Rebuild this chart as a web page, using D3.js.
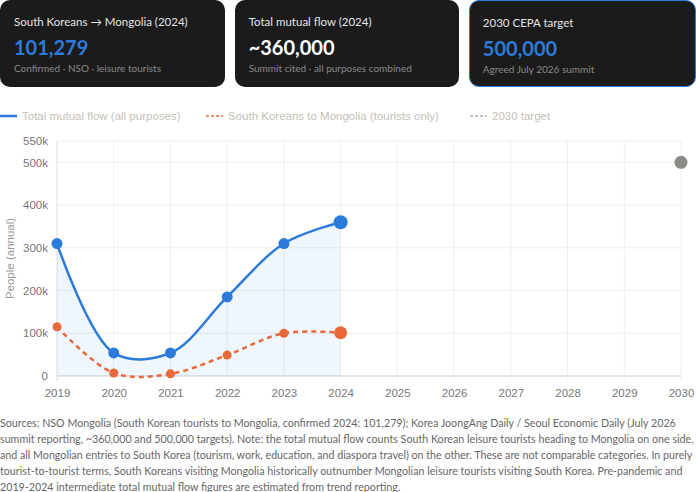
<!DOCTYPE html>
<html>
<head>
<meta charset="utf-8">
<script src="https://cdn.jsdelivr.net/npm/d3@7"></script>
<style>
  html, body { margin: 0; padding: 0; background: #fff; }
  body { width: 696px; height: 492px; position: relative; overflow: hidden; font-family: Lato, "Noto Sans", sans-serif; }
  .cards { position: absolute; left: 0; top: 0; width: 696px; height: 87px; display: flex; gap: 10px; }
  .card { flex: 1; background: #1b1b1b; border-radius: 10px; box-sizing: border-box; position: relative; }
  .card.hl { border: 1.5px solid #2b7bdc; }
  .card > div { position: absolute; left: 14px; white-space: nowrap; }
  .card.hl > div { left: 12.5px; }
  .card .t { top: 15px; font-size: 11.5px; color: #e4e4e4; }
  .card .v { top: 35px; font-size: 20px; font-weight: 700; color: #fff; }
  .card .v.blue { color: #2b7bdc; }
  .card .s { top: 62px; font-size: 10px; color: #8a8a8a; }
  .notes { position: absolute; left: 0; top: 414.5px; width: 700px; font-size: 12px; line-height: 16.2px; color: #666; }
  .notes div { white-space: nowrap; display: table; }
  svg text { font-family: "Liberation Sans", Arial, sans-serif; }
</style>
</head>
<body>
<div class="cards" id="cards"></div>
<svg id="chart" width="696" height="314" style="position:absolute;left:0;top:100px"></svg>
<div class="notes" id="notes"></div>
<script>
// data
const years = [2019, 2020, 2021, 2022, 2023, 2024];
const totalFlow = [310000, 54000, 54000, 185000, 310000, 360000];
const koreanTourists = [115000, 7000, 5000, 49000, 100000, 101279];
const targetYear = 2030;
const targetValue = 500000;
const yTicks = [0, 100000, 200000, 300000, 400000, 500000, 550000];
const xTicks = [2019, 2020, 2021, 2022, 2023, 2024, 2025, 2026, 2027, 2028, 2029, 2030];

const cards = [
  { title: "South Koreans \u2192 Mongolia (2024)", value: "101,279", sub: "Confirmed \u00b7 NSO \u00b7 leisure tourists", blue: true, hl: false },
  { title: "Total mutual flow (2024)", value: "~360,000", sub: "Summit cited \u00b7 all purposes combined", blue: false, hl: false },
  { title: "2030 CEPA target", value: "500,000", sub: "Agreed July 2026 summit", blue: true, hl: true },
];

const noteLines = [
  "Sources: NSO Mongolia (South Korean tourists to Mongolia, confirmed 2024: 101,279); Korea JoongAng Daily / Seoul Economic Daily (July 2026",
  "summit reporting, ~360,000 and 500,000 targets). Note: the total mutual flow counts South Korean leisure tourists heading to Mongolia on one side,",
  "and all Mongolian entries to South Korea (tourism, work, education, and diaspora travel) on the other. These are not comparable categories. In purely",
  "tourist-to-tourist terms, South Koreans visiting Mongolia historically outnumber Mongolian leisure tourists visiting South Korea. Pre-pandemic and",
  "2019-2024 intermediate total mutual flow figures are estimated from trend reporting.",
];

const blue = "#2b7bdc";
const orange = "#e8683a";
const grey = "#8c8a84";

// KPI cards
const card = d3.select("#cards").selectAll(".card")
  .data(cards)
  .join("div")
  .attr("class", (d) => (d.hl ? "card hl" : "card"));
card.append("div").attr("class", "t").text((d) => d.title);
card.append("div").attr("class", (d) => (d.blue ? "v blue" : "v")).text((d) => d.value);
card.append("div").attr("class", "s").text((d) => d.sub);

// footnote, shrink so the widest line fits the page
const notes = d3.select("#notes");
notes.selectAll("div").data(noteLines).join("div").text((d) => d);
const widest = d3.max(notes.selectAll("div").nodes(), (n) => n.getBoundingClientRect().width);
if (widest > 694) notes.style("font-size", (12 * 694) / widest + "px");

// chart
const svg = d3.select("#chart");
const x = d3.scaleLinear().domain([2019, 2030]).range([57, 681]);
const y = d3.scaleLinear().domain([0, 550000]).range([276, 41]);

// grid
svg.append("g")
  .selectAll("line")
  .data(yTicks)
  .join("line")
  .attr("x1", x(2019)).attr("x2", x(2030))
  .attr("y1", (d) => y(d)).attr("y2", (d) => y(d))
  .attr("stroke", (d) => (d === 0 ? "#dedede" : "#efefef"))
  .attr("stroke-width", (d) => (d === 0 ? 1.5 : 1));

svg.append("g")
  .selectAll("line")
  .data(xTicks)
  .join("line")
  .attr("x1", (d) => x(d)).attr("x2", (d) => x(d))
  .attr("y1", y(550000)).attr("y2", y(0) + 5)
  .attr("stroke", (d) => (d === 2019 ? "#dedede" : "#efefef"))
  .attr("stroke-width", 1);

// axes
const yAxis = d3.axisLeft(y)
  .tickValues(yTicks)
  .tickSize(0)
  .tickPadding(9)
  .tickFormat((d) => (d === 0 ? "0" : d / 1000 + "k"));
svg.append("g")
  .attr("transform", `translate(${x(2019)},0)`)
  .call(yAxis)
  .call((g) => g.select(".domain").remove())
  .call((g) => g.selectAll("text").attr("fill", "#777").attr("font-size", 11.5));

const xAxis = d3.axisBottom(x)
  .tickValues(xTicks)
  .tickSize(0)
  .tickPadding(13)
  .tickFormat(d3.format("d"));
svg.append("g")
  .attr("transform", `translate(0,${y(0)})`)
  .call(xAxis)
  .call((g) => g.select(".domain").remove())
  .call((g) => g.selectAll("text").attr("fill", "#777").attr("font-size", 11.5));

// y label
svg.append("text")
  .attr("transform", `translate(14,${(y(0) + y(550000)) / 2}) rotate(-90)`)
  .attr("text-anchor", "middle")
  .attr("fill", "#999")
  .attr("font-size", 11.5)
  .text("People (annual)");

const curve = d3.curveCatmullRom.alpha(0.5);
const totalPts = years.map((yr, i) => [yr, totalFlow[i]]);
const touristPts = years.map((yr, i) => [yr, koreanTourists[i]]);

// fill under total line
svg.append("path")
  .datum(totalPts)
  .attr("fill", "rgba(43,123,220,0.07)")
  .attr("d", d3.area().x((d) => x(d[0])).y0(y(0)).y1((d) => y(d[1])).curve(curve));

svg.append("path")
  .datum(totalPts)
  .attr("fill", "none")
  .attr("stroke", blue)
  .attr("stroke-width", 2.5)
  .attr("d", d3.line().x((d) => x(d[0])).y((d) => y(d[1])).curve(curve));

svg.append("path")
  .datum(touristPts)
  .attr("fill", "none")
  .attr("stroke", orange)
  .attr("stroke-width", 2.5)
  .attr("stroke-dasharray", "5,4")
  .attr("d", d3.line().x((d) => x(d[0])).y((d) => y(d[1])).curve(curve));

// points
svg.append("g")
  .selectAll("circle")
  .data(totalPts)
  .join("circle")
  .attr("cx", (d) => x(d[0]))
  .attr("cy", (d) => y(d[1]))
  .attr("r", (d) => (d[0] === 2024 ? 7 : 5.5))
  .attr("fill", blue);

svg.append("g")
  .selectAll("circle")
  .data(touristPts)
  .join("circle")
  .attr("cx", (d) => x(d[0]))
  .attr("cy", (d) => y(d[1]))
  .attr("r", (d) => (d[0] === 2024 ? 6.5 : 4.5))
  .attr("fill", orange);

svg.append("circle")
  .attr("cx", x(targetYear))
  .attr("cy", y(targetValue))
  .attr("r", 6.5)
  .attr("fill", grey);

// legend
const legendItems = [
  { label: "Total mutual flow (all purposes)", color: blue, dash: null, w: 2.5, x0: 0 },
  { label: "South Koreans to Mongolia (tourists only)", color: orange, dash: "3,2", w: 1.5, x0: 206 },
  { label: "2030 target", color: grey, dash: "3,2", w: 1.2, x0: 470 },
];
const lg = svg.append("g")
  .selectAll("g")
  .data(legendItems)
  .join("g")
  .attr("transform", (d) => `translate(${d.x0},16)`);
lg.append("line")
  .attr("x1", 0).attr("x2", 17)
  .attr("stroke", (d) => d.color)
  .attr("stroke-width", (d) => d.w)
  .attr("stroke-dasharray", (d) => d.dash);
lg.append("text")
  .attr("x", 22)
  .attr("dy", "0.35em")
  .attr("fill", "#c4bfb8")
  .attr("font-size", 11.5)
  .text((d) => d.label);
</script>
</body>
</html>
